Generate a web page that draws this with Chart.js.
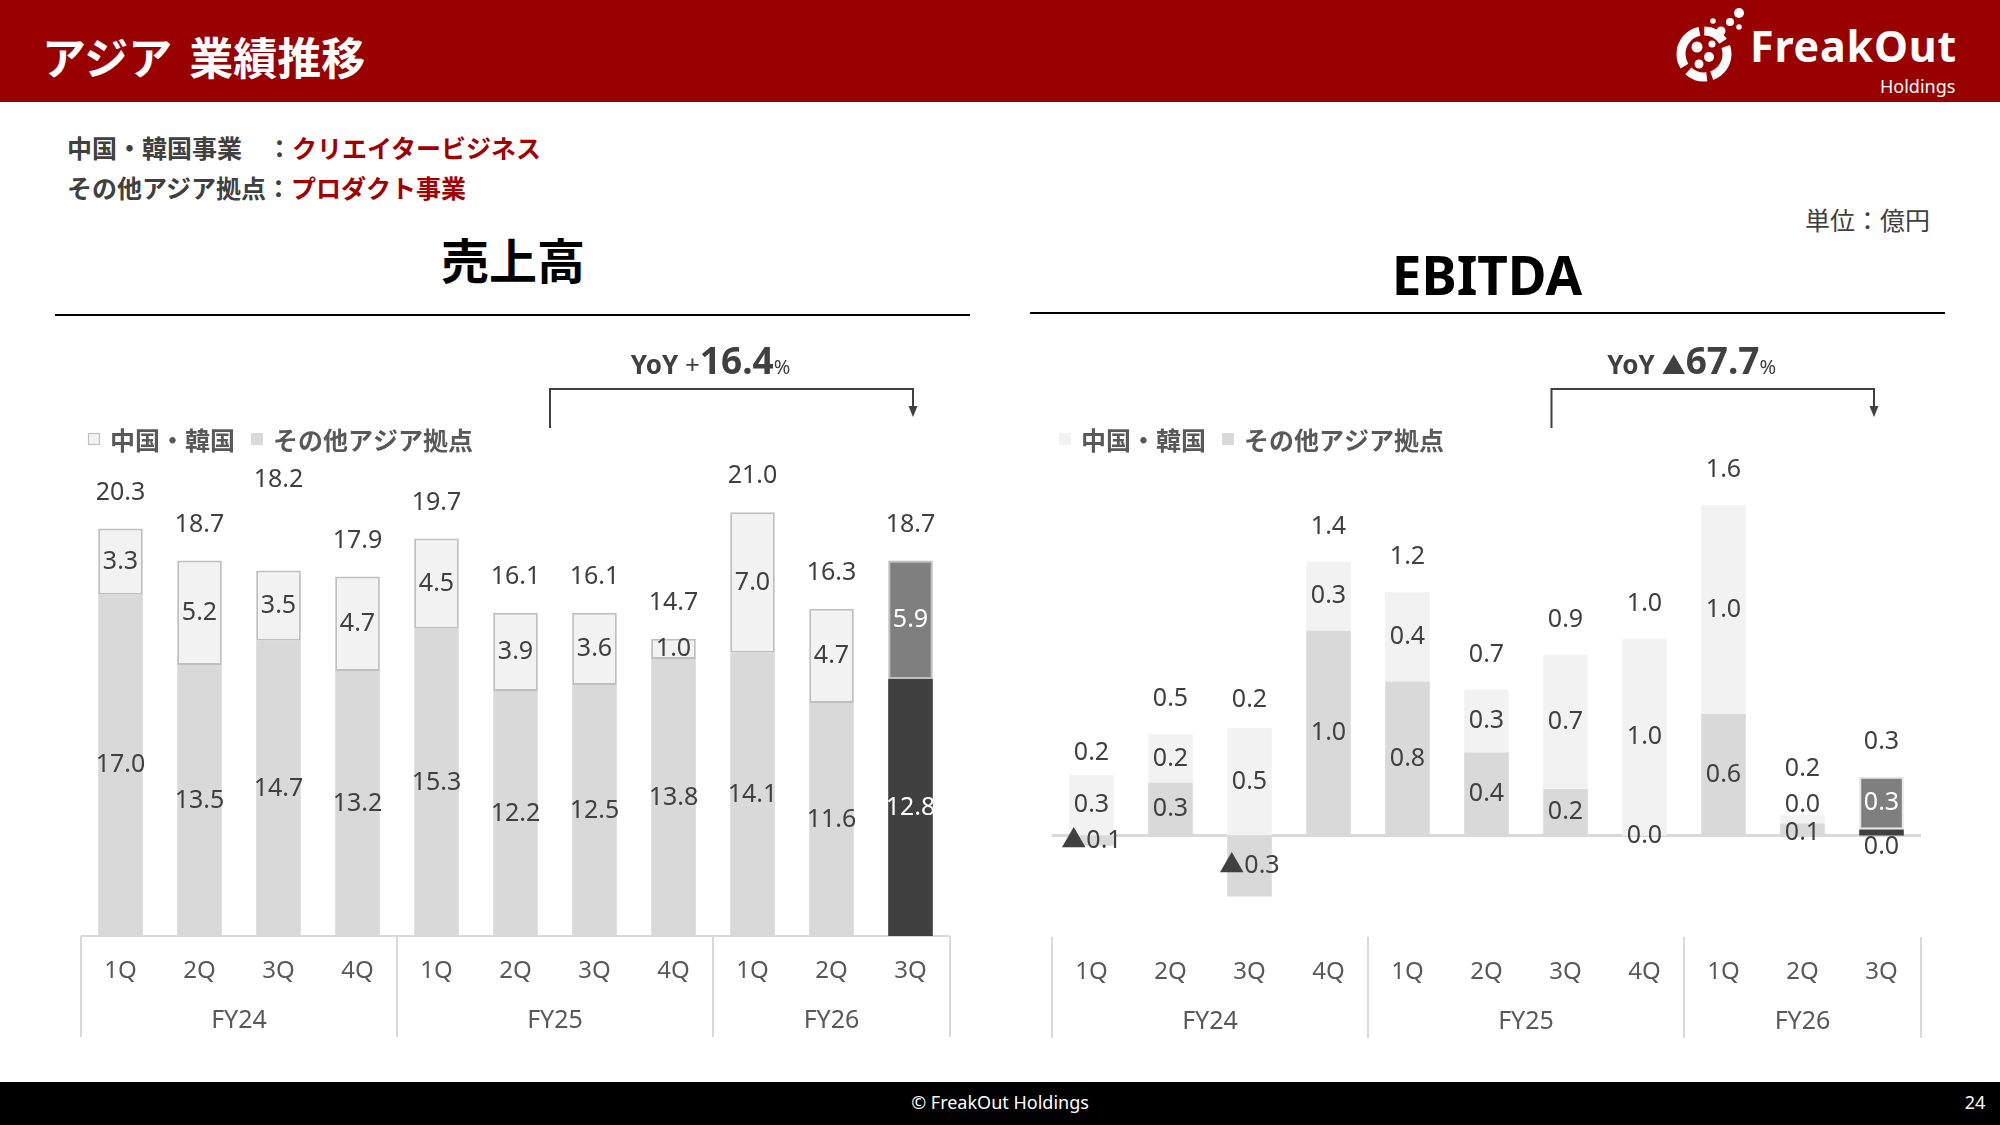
<!DOCTYPE html>
<html lang="ja"><head><meta charset="utf-8">
<script src="https://cdn.jsdelivr.net/npm/chart.js@4.4.1/dist/chart.umd.min.js"></script>
<style>
html,body{margin:0;padding:0;}
body{width:2000px;height:1125px;position:relative;overflow:hidden;background:#fff;font-family:"Noto Sans","Noto Sans CJK JP",sans-serif;}
.abs{position:absolute;white-space:nowrap;}
#hdr{left:0;top:0;width:2000px;height:102px;background:#990000;}
#title{left:42px;top:26px;font:bold 44px/60px "Noto Sans CJK JP";color:#fff;word-spacing:7px;}
#logoText{left:1750px;top:24px;font:bold 43px/43px "Noto Sans";color:#fff;letter-spacing:0.8px;}
#logoSub{left:1880px;top:77px;font:18px/18px "Noto Sans";color:#fff;}
.note{left:67px;font:bold 25px/30px "Noto Sans CJK JP";color:#404040;}
.note .r{color:#a00000;}
#n1{top:132px;} #n2{top:172px;}
#unit{right:70px;top:204px;font:25px/30px "Noto Sans CJK JP";color:#404040;}
#t1{left:313px;width:400px;text-align:center;top:226px;font:bold 48px/64px "Noto Sans CJK JP";color:#000;}
#t2{left:1287px;width:400px;text-align:center;top:240px;font:bold 53px/70px "Noto Sans";color:#000;}
.rule{height:2px;background:#000;}
#r1{left:55px;top:314px;width:915px;}
#r2{left:1030px;top:312px;width:915px;}
#foot{left:0;top:1082px;width:2000px;height:43px;background:#000;}
#copy{left:0;width:2000px;text-align:center;top:1089px;font:18px/26px "Noto Sans";color:#fff;}
#page{left:1955px;width:40px;text-align:center;top:1089px;font:18px/26px "Noto Sans";color:#fff;}
canvas{position:absolute;}
#c1{left:30px;top:320px;}
#c2{left:1010px;top:320px;}
</style>
</head>
<body>
<div id="hdr" class="abs"></div>
<div id="title" class="abs">アジア 業績推移</div>
<svg class="abs" style="left:1672px;top:0px" width="76" height="90" viewBox="0 0 76 90">
  <circle cx="32" cy="54" r="23" fill="none" stroke="#fff" stroke-width="9" stroke-dasharray="28 5 20 6 44 5 22 6"/>
  <g fill="#fff">
    <circle cx="67" cy="13" r="5"/><circle cx="58" cy="22" r="4"/><circle cx="67" cy="27" r="2.8"/>
    <circle cx="49" cy="31" r="4.5"/><circle cx="41" cy="21" r="2.8"/>
    <circle cx="25" cy="47" r="5.5"/><circle cx="37" cy="57" r="5"/><circle cx="27" cy="64" r="4.5"/><circle cx="40" cy="44" r="3.5"/>
  </g>
</svg>
<div id="logoText" class="abs">FreakOut</div>
<div id="logoSub" class="abs">Holdings</div>
<div id="n1" class="abs note">中国・韓国事業　：<span class="r">クリエイタービジネス</span></div>
<div id="n2" class="abs note">その他アジア拠点：<span class="r">プロダクト事業</span></div>
<div id="unit" class="abs">単位：億円</div>
<div id="t1" class="abs">売上高</div>
<div id="t2" class="abs">EBITDA</div>
<div id="r1" class="abs rule"></div>
<div id="r2" class="abs rule"></div>
<canvas id="c1" width="950" height="740"></canvas>
<canvas id="c2" width="950" height="740"></canvas>
<div id="foot" class="abs"></div>
<div id="copy" class="abs">© FreakOut Holdings</div>
<div id="page" class="abs">24</div>
<script>
// ---------- data ----------
const quarterLabels = ['1Q','2Q','3Q','4Q','1Q','2Q','3Q','4Q','1Q','2Q','3Q'];
const fiscalYears = ['FY24','FY25','FY26'];
const fiscalYearSizes = [4,4,3];
const seriesNames = ['中国・韓国','その他アジア拠点'];

const salesOtherAsia   = [17.0,13.5,14.7,13.2,15.3,12.2,12.5,13.8,14.1,11.6,12.8];
const salesChinaKorea  = [3.3,5.2,3.5,4.7,4.5,3.9,3.6,1.0,7.0,4.7,5.9];
const salesTotal       = [20.3,18.7,18.2,17.9,19.7,16.1,16.1,14.7,21.0,16.3,18.7];
const salesYoY = 16.4;

const ebitdaOtherAsia  = [-0.05,0.26,-0.30,1.01,0.76,0.41,0.23,0.00,0.60,0.06,0.03];
const ebitdaChinaKorea = [0.30,0.24,0.53,0.34,0.44,0.31,0.66,0.97,1.03,0.04,0.26];
const ebitdaTotal      = [0.2,0.5,0.2,1.4,1.2,0.7,0.9,1.0,1.6,0.2,0.3];
const ebitdaYoY = -67.7;

// ---------- helpers ----------
const HL = quarterLabels.length - 1;
const CANVAS_TOP = 320;
const DARK = '#404040';
const fmt = v => (v < 0 ? '▲' : '') + Math.abs(v).toFixed(1);

function deco(o){
  return {
    id: 'deco',
    beforeDatasetsDraw(chart){
      const {ctx, chartArea:a, scales:{x, y}} = chart;
      const n = chart.data.labels.length, step = (a.right - a.left) / n;
      ctx.save();
      ctx.strokeStyle = '#d9d9d9';
      ctx.lineWidth = o.zeroWidth;
      const y0 = y.getPixelForValue(0);
      ctx.beginPath(); ctx.moveTo(a.left, y0); ctx.lineTo(a.right, y0); ctx.stroke();
      ctx.lineWidth = 2;
      const bounds = [a.left]; let idx = 0;
      fiscalYearSizes.forEach(s => { idx += s; bounds.push(x.getPixelForValue(idx - 1) + step / 2); });
      bounds.forEach(bx => { ctx.beginPath(); ctx.moveTo(bx, a.bottom); ctx.lineTo(bx, a.bottom + 101); ctx.stroke(); });
      ctx.fillStyle = '#595959'; ctx.textAlign = 'center'; ctx.textBaseline = 'middle';
      ctx.font = '24px "Noto Sans"';
      chart.data.labels.forEach((l, i) => ctx.fillText(l, x.getPixelForValue(i), a.bottom + 35));
      ctx.font = '25px "Noto Sans"';
      idx = 0;
      fiscalYears.forEach((fy, g) => {
        const s = fiscalYearSizes[g];
        const c = (x.getPixelForValue(idx) + x.getPixelForValue(idx + s - 1)) / 2;
        ctx.fillText(fy, c, a.bottom + 85); idx += s;
      });
      ctx.restore();
    },
    afterDatasetsDraw(chart){
      const {ctx, chartArea:a, scales:{x, y}} = chart;
      ctx.save();
      ctx.textAlign = 'center'; ctx.textBaseline = 'middle';
      ctx.font = '25px "Noto Sans", "Noto Sans CJK JP"';
      // segment labels
      chart.data.datasets.forEach((ds, di) => {
        const meta = chart.getDatasetMeta(di);
        meta.data.forEach((bar, i) => {
          const v = ds.data[i];
          const h = Math.abs(bar.base - bar.y);
          const cy = (bar.y + bar.base) / 2 + (o.segNudge[di + '-' + i] || 0);
          ctx.fillStyle = (i === HL && h >= 20) ? '#ffffff' : DARK;
          ctx.fillText(fmt(v), bar.x, cy);
        });
      });
      // totals
      ctx.fillStyle = DARK;
      o.totals.forEach((t, i) => {
        let pos = 0;
        chart.data.datasets.forEach(ds => { if (ds.data[i] > 0) pos += ds.data[i]; });
        const ty = y.getPixelForValue(pos) - o.totalGap + (o.totalNudge[i] || 0);
        ctx.fillText(t.toFixed(1), x.getPixelForValue(i), ty);
      });
      // legend
      const ly = 439 - CANVAS_TOP;
      let lx = a.left + 7;
      ctx.textAlign = 'left';
      ctx.font = 'bold 25px "Noto Sans CJK JP"';
      const legendItems = [
        {name: seriesNames[0], fill: '#f2f2f2', stroke: o.lightLegendStroke},
        {name: seriesNames[1], fill: '#d9d9d9', stroke: null}
      ];
      legendItems.forEach(it => {
        ctx.fillStyle = it.fill; ctx.fillRect(lx, ly - 6, 12, 12);
        if (it.stroke) { ctx.strokeStyle = it.stroke; ctx.lineWidth = 1.2; ctx.strokeRect(lx + 0.5, ly - 5.5, 11, 11); }
        ctx.fillStyle = '#595959';
        ctx.fillText(it.name, lx + 22, ly + 1);
        lx += 22 + ctx.measureText(it.name).width + 16;
      });
      // bracket
      const L = x.getPixelForValue(6) + o.bracket[0];
      const R = x.getPixelForValue(HL) + o.bracket[1];
      const top = 389 - CANVAS_TOP;
      ctx.strokeStyle = DARK; ctx.lineWidth = 2;
      ctx.beginPath();
      ctx.moveTo(L, 428 - CANVAS_TOP); ctx.lineTo(L, top); ctx.lineTo(R, top); ctx.lineTo(R, 410 - CANVAS_TOP);
      ctx.stroke();
      ctx.fillStyle = DARK;
      ctx.beginPath(); ctx.moveTo(R - 4.5, 406 - CANVAS_TOP); ctx.lineTo(R + 4.5, 406 - CANVAS_TOP); ctx.lineTo(R, 417 - CANVAS_TOP); ctx.closePath(); ctx.fill();
      // YoY text
      const v = o.yoy;
      const pieces = [
        ['YoY ', 'bold 26px "Noto Sans"'],
        [v >= 0 ? '+' : '▲', v >= 0 ? '26px "Noto Sans"' : 'bold 24px "Noto Sans CJK JP"'],
        [Math.abs(v).toFixed(1), 'bold 37px "Noto Sans"'],
        ['%', '20px "Noto Sans"']
      ];
      let tw = 0;
      pieces.forEach(p => { ctx.font = p[1]; p.w = ctx.measureText(p[0]).width; tw += p.w; });
      let px = (L + R) / 2 - 21 - tw / 2;
      ctx.textBaseline = 'alphabetic';
      pieces.forEach(p => { ctx.font = p[1]; ctx.fillText(p[0], px, 374 - CANVAS_TOP); px += p.w; });
      ctx.restore();
    }
  };
}

function makeChart(id, other, ck, cfg){
  return new Chart(document.getElementById(id), {
    type: 'bar',
    data: {
      labels: quarterLabels,
      datasets: [
        { label: seriesNames[1], data: other, stack: 's',
          backgroundColor: c => c.dataIndex === HL ? '#404040' : '#d9d9d9', borderWidth: 0 },
        { label: seriesNames[0], data: ck, stack: 's',
          backgroundColor: c => c.dataIndex === HL ? '#7f7f7f' : '#f2f2f2',
          borderColor: c => c.dataIndex === HL ? cfg.hlBorder : '#bfbfbf',
          borderWidth: c => (c.dataIndex === HL || cfg.lightBorder) ? 2 : 0,
          borderSkipped: false }
      ]
    },
    options: {
      responsive: false, animation: false,
      layout: { padding: cfg.padding },
      plugins: { legend: { display: false }, tooltip: { enabled: false } },
      datasets: { bar: { barPercentage: 0.565, categoryPercentage: 1 } },
      scales: {
        x: { display: false, stacked: true, offset: true },
        y: { display: false, stacked: true, min: cfg.min, max: cfg.max }
      }
    },
    plugins: [deco(cfg.deco)]
  });
}

makeChart('c1', salesOtherAsia, salesChinaKorea, {
  padding: {left: 51, right: 30, top: 114, bottom: 124},
  min: 0, max: 25, lightBorder: true, hlBorder: '#bfbfbf',
  deco: { totals: salesTotal, totalGap: 36, totalNudge: {2: -55}, segNudge: {},
          zeroWidth: 2, lightLegendStroke: '#bfbfbf', bracket: [-44.5, 2.5], yoy: salesYoY }
});
makeChart('c2', ebitdaOtherAsia, ebitdaChinaKorea, {
  padding: {left: 42, right: 39, top: 110, bottom: 123},
  min: -0.5, max: 2.0, lightBorder: false, hlBorder: '#e6e6e6',
  deco: { totals: ebitdaTotal, totalGap: 35, totalNudge: {0: 13, 2: 7, 9: -11}, segNudge: {'0-10': 14, '1-9': -15, '0-9': 3},
          zeroWidth: 3, lightLegendStroke: null, bracket: [-14, -7.5], yoy: ebitdaYoY }
});
</script>
</body></html>
